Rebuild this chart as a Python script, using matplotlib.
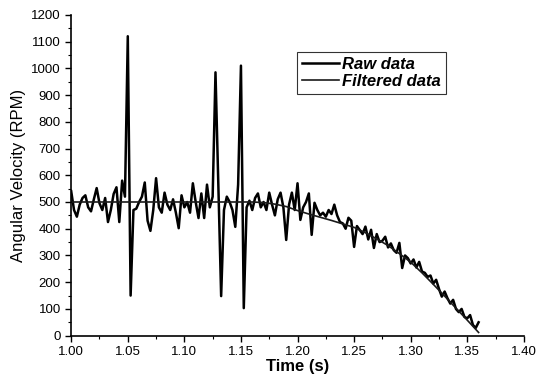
import numpy as np
import matplotlib
matplotlib.use('Agg')
import matplotlib.pyplot as plt
from matplotlib.ticker import MultipleLocator

plt.rcParams['font.family'] = ['Liberation Sans', 'DejaVu Sans']

# raw samples, 1.000 s .. 1.360 s every 2.5 ms
raw_rpm = [540, 470, 445, 490, 515, 525, 480, 465, 510, 552,
           495, 470, 515, 425, 470, 530, 555, 425, 580, 520,
           1120, 150, 470, 475, 500, 520, 573, 430, 392, 470,
           589, 480, 460, 535, 490, 470, 510, 460, 402, 525,
           480, 500, 460, 570, 500, 440, 532, 440, 565, 480,
           520, 985, 560, 148, 470, 520, 500, 470, 407, 565,
           1010, 103, 480, 505, 470, 515, 532, 480, 500, 470,
           535, 490, 450, 510, 535, 480, 358, 490, 535, 470,
           570, 433, 480, 500, 532, 377, 497, 470, 450, 460,
           445, 470, 455, 490, 450, 425, 420, 400, 441, 430,
           332, 410, 395, 380, 408, 360, 396, 328, 380, 350,
           355, 370, 330, 345, 320, 310, 347, 253, 300, 290,
           270, 285, 255, 276, 240, 235, 220, 225, 195, 209,
           175, 146, 165, 140, 120, 134, 100, 88, 100, 70,
           65, 77, 40, 29, 50]
raw_t = np.linspace(1.0, 1.36, len(raw_rpm))

filt_t = [1.00, 1.05, 1.10, 1.15, 1.16, 1.17, 1.18, 1.19, 1.20, 1.21,
          1.22, 1.23, 1.24, 1.25, 1.26, 1.27, 1.28, 1.29, 1.30, 1.31,
          1.32, 1.33, 1.34, 1.35, 1.36]
filt_rpm = [500, 500, 500, 500, 500, 498, 492, 483, 468, 455,
            443, 431, 418, 405, 385, 362, 337, 307, 275, 235,
            192, 148, 103, 58, 12]

fig = plt.figure(figsize=(5.52, 3.81), dpi=100)
ax = fig.add_axes([0.129, 0.119, 0.820, 0.842])

ax.plot(raw_t, raw_rpm, color='black', lw=1.8, solid_joinstyle='round',
        label='Raw data')
ax.plot(filt_t, filt_rpm, color='#1a1a1a', lw=1.2, label='Filtered data')

ax.set_xlim(1.0, 1.4)
ax.set_ylim(0, 1200)
ax.xaxis.set_major_locator(MultipleLocator(0.05))
ax.xaxis.set_minor_locator(MultipleLocator(0.025))
ax.yaxis.set_major_locator(MultipleLocator(100))
ax.yaxis.set_minor_locator(MultipleLocator(50))
ax.xaxis.set_major_formatter(plt.FormatStrFormatter('%.2f'))

ax.spines['top'].set_visible(False)
ax.spines['right'].set_visible(False)
ax.spines['left'].set_linewidth(1.2)
ax.spines['bottom'].set_linewidth(1.2)
ax.tick_params(which='major', direction='out', length=4, width=1, labelsize=9.5)
ax.tick_params(which='minor', direction='out', length=2.5, width=0.8)

ax.set_xlabel('Time (s)', fontsize=12, fontweight='bold', labelpad=1)
ax.set_ylabel('Angular Velocity (RPM)', fontsize=12, labelpad=4)

leg = ax.legend(loc='upper left', bbox_to_anchor=(0.499, 0.885),
                prop={'weight': 'bold', 'style': 'italic', 'size': 12},
                frameon=True, fancybox=False, edgecolor='black',
                handlelength=2.2, handletextpad=0.2, borderpad=0.3,
                labelspacing=0.12, borderaxespad=0)
leg.get_frame().set_linewidth(0.8)

fig.savefig('out.png', dpi=100)
